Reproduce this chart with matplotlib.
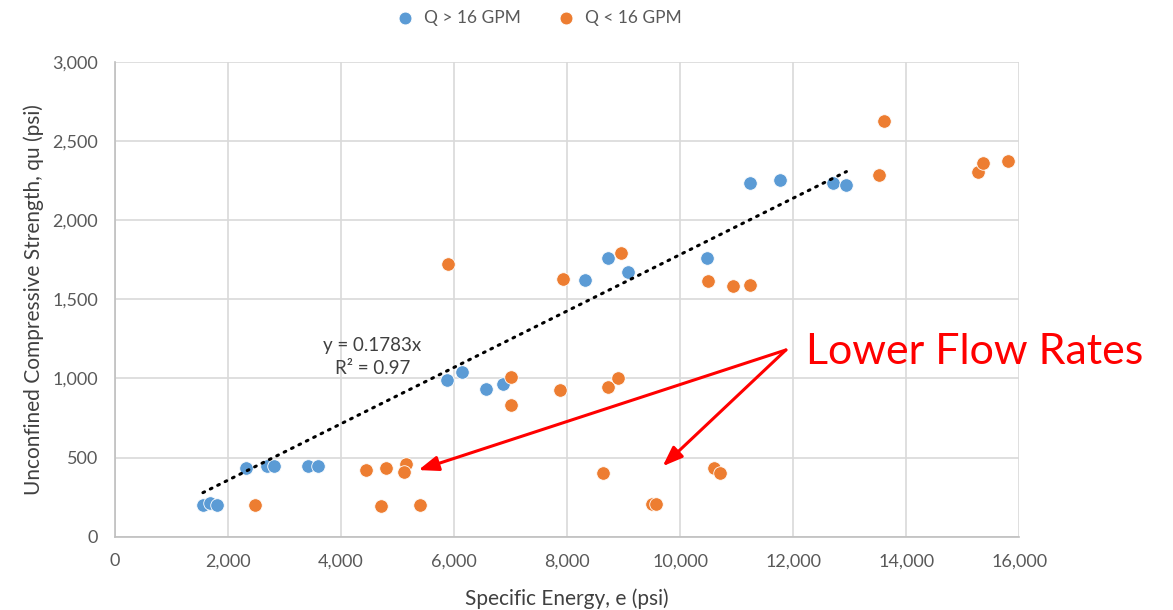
import matplotlib
matplotlib.use("Agg")
import matplotlib.pyplot as plt
from matplotlib.ticker import FuncFormatter, MultipleLocator

plt.rcParams["font.family"] = ["Lato", "DejaVu Sans"]

# Specific energy (psi) and unconfined compressive strength (psi)
high_flow_e = [1560, 1690, 1810, 2320, 2690, 2810, 3410, 3590, 5880, 6150,
               6570, 6860, 8320, 8730, 9070, 10480, 11240, 11760, 12700, 12940]
high_flow_qu = [200, 213, 200, 436, 447, 447, 447, 447, 990, 1042,
                933, 965, 1622, 1761, 1672, 1761, 2236, 2253, 2236, 2222]

low_flow_e = [2480, 4440, 4800, 5150, 5120, 4710, 5390, 5890, 7010, 7010,
              7880, 8730, 8900, 8630, 9500, 9580, 10600, 10700, 7920, 8960,
              10490, 10940, 11240, 13600, 13510, 15270, 15350, 15790]
low_flow_qu = [200, 421, 432, 459, 411, 194, 200, 1721, 1011, 832,
               927, 948, 1004, 400, 206, 206, 432, 404, 1628, 1790,
               1615, 1582, 1590, 2626, 2283, 2304, 2359, 2373]

series_labels = ["Q > 16 GPM", "Q < 16 GPM"]
trend_slope = 0.1783
trend_r2 = 0.97

# Arrow start and the two targets for the callout
callout_from = (11870, 1180)
callout_to = [(5370, 421), (9690, 445)]

BLUE = "#5B9BD5"
ORANGE = "#ED7D31"
GRID = "#D9D9D9"
TEXT = "#595959"

fig = plt.figure(figsize=(11.73, 6.10), dpi=100)
ax = fig.add_axes([0.0978, 0.1202, 0.7713, 0.7782])

ax.scatter(high_flow_e, high_flow_qu, s=95, color=BLUE, edgecolors="white",
           linewidths=0.6, label=series_labels[0], zorder=3)
ax.scatter(low_flow_e, low_flow_qu, s=95, color=ORANGE, edgecolors="white",
           linewidths=0.6, label=series_labels[1], zorder=3)

# Linear trendline through the origin for the high-flow series
x0, x1 = min(high_flow_e), max(high_flow_e)
ax.plot([x0, x1], [trend_slope * x0, trend_slope * x1], color="black",
        linewidth=2.2, linestyle=(0, (0.6, 2.1)), dash_capstyle="round",
        zorder=4)
ax.text(4560, 1210, f"y = {trend_slope}x", ha="center", va="center",
        fontsize=13.5, color="#404040")
ax.text(4560, 1065, f"R² = {trend_r2}", ha="center", va="center",
        fontsize=13.5, color="#404040")

ax.set_xlim(0, 16000)
ax.set_ylim(0, 3000)
ax.xaxis.set_major_locator(MultipleLocator(2000))
ax.yaxis.set_major_locator(MultipleLocator(500))
fmt = FuncFormatter(lambda v, p: f"{int(v):,}")
ax.xaxis.set_major_formatter(fmt)
ax.yaxis.set_major_formatter(fmt)
ax.grid(True, color=GRID, linewidth=1.2, zorder=0)
ax.set_axisbelow(True)
for side in ("top", "right"):
    ax.spines[side].set_visible(False)
for side in ("left", "bottom"):
    ax.spines[side].set_color("#BFBFBF")
    ax.spines[side].set_linewidth(1.2)
ax.tick_params(length=0, labelsize=13, labelcolor=TEXT, pad=12)

ax.set_xlabel("Specific Energy, e (psi)", fontsize=15, color="#404040",
              labelpad=14)
ax.set_ylabel("Unconfined Compressive Strength, qu (psi)", fontsize=15,
              color="#404040", labelpad=6)

for target in callout_to:
    ax.annotate("", xy=target, xytext=callout_from,
                arrowprops=dict(arrowstyle="-|>,head_length=1.2,head_width=0.45",
                                color="red", linewidth=2.2,
                                shrinkA=0, shrinkB=0),
                annotation_clip=False, zorder=5)
fig.text(806 / 1173, 1 - 352 / 610, "Lower Flow Rates", color="red",
         fontsize=31, ha="left", va="center")

fig.legend(loc="center", bbox_to_anchor=(0.456, 1 - 18 / 610), ncol=2,
           frameon=False, fontsize=12.5, handletextpad=0.1, columnspacing=1.6,
           markerscale=0.95, labelcolor=TEXT)

fig.savefig("out.png", dpi=100)
